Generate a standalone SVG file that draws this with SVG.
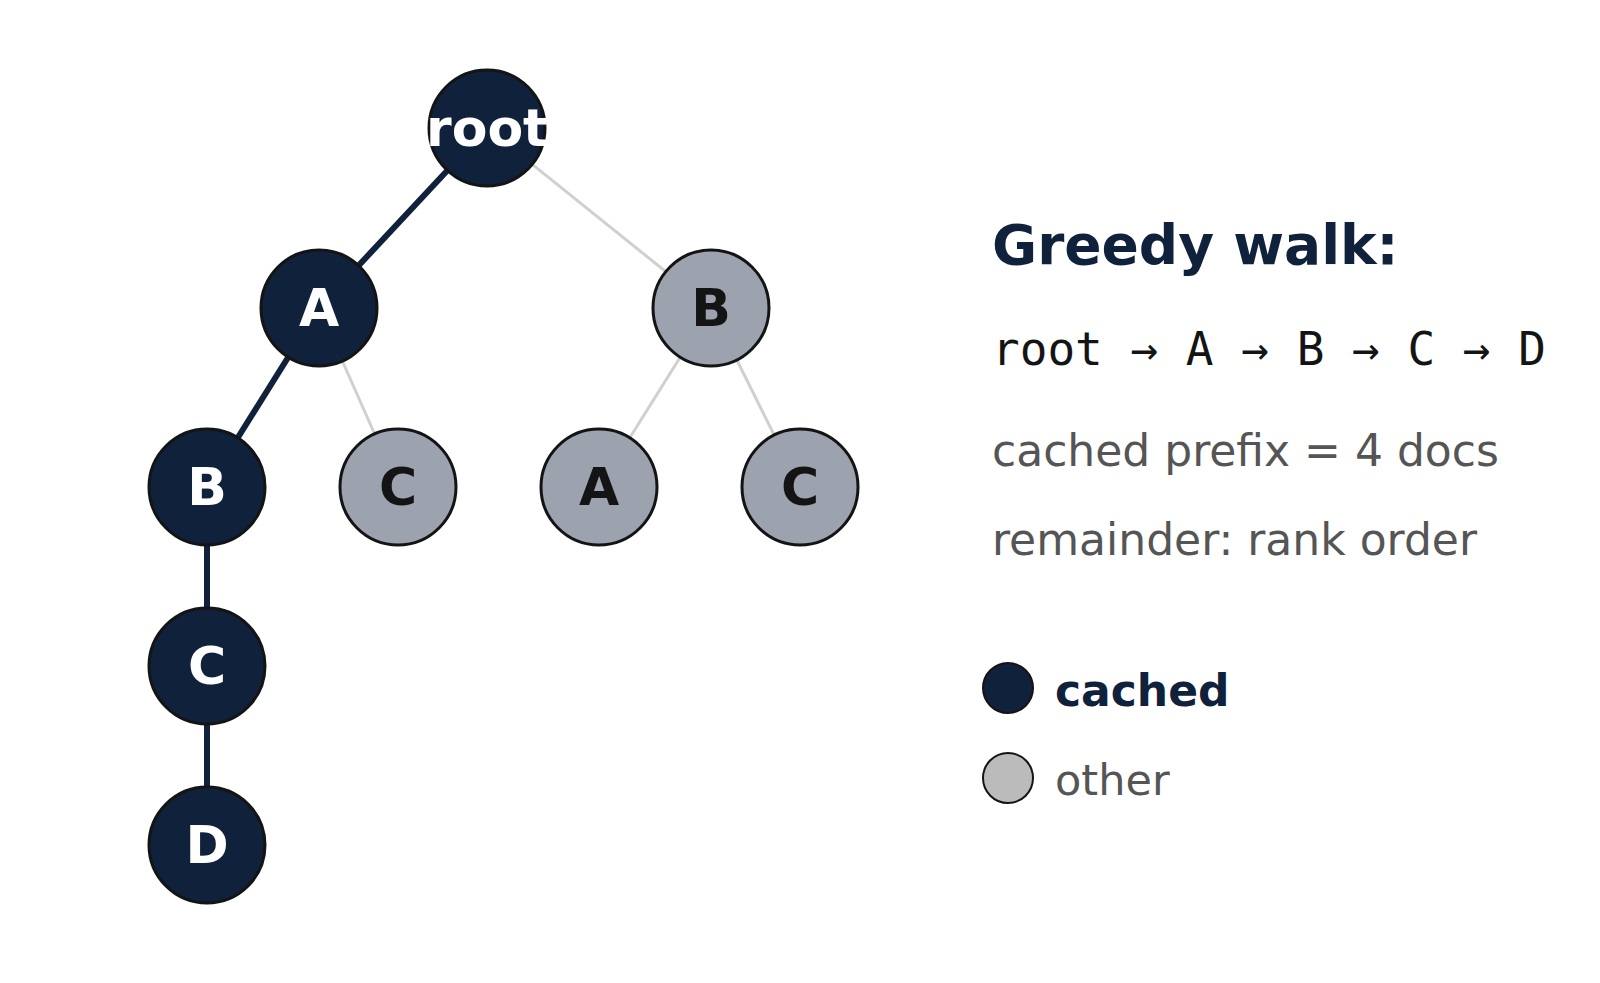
<svg xmlns="http://www.w3.org/2000/svg" width="1600" height="983" viewBox="0 0 1600 983">
<style>
.d{fill:#0f213b;stroke:#141414;stroke-width:3}
.g{fill:#9ca3ae;stroke:#141414;stroke-width:3}
.lw{font-family:"DejaVu Sans",sans-serif;font-weight:bold;font-size:52px;fill:#fff;text-anchor:middle}
.lk{font-family:"DejaVu Sans",sans-serif;font-weight:bold;font-size:52px;fill:#141414;text-anchor:middle}
.ed{stroke:#0f213b;stroke-width:6}
.eg{stroke:#d0d0d0;stroke-width:3}
.t{font-family:"DejaVu Sans",sans-serif;font-size:44px;fill:#555}
</style>
<rect width="1600" height="983" fill="#fff"/>
<g id="connectors">
<line class="eg" x1="487" y1="128" x2="711" y2="308"/>
<line class="eg" x1="319" y1="308" x2="398" y2="487"/>
<line class="eg" x1="711" y1="308" x2="599" y2="487"/>
<line class="eg" x1="711" y1="308" x2="800" y2="487"/>
<line class="ed" x1="487" y1="128" x2="319" y2="308"/>
<line class="ed" x1="319" y1="308" x2="207" y2="487"/>
<line class="ed" x1="207" y1="487" x2="207" y2="666"/>
<line class="ed" x1="207" y1="666" x2="207" y2="845"/>
</g>
<g id="n-root"><circle class="d" cx="487" cy="128" r="58"/><text class="lw" x="487" y="146">root</text></g>
<g id="n-A"><circle class="d" cx="319" cy="308" r="58"/><text class="lw" x="319" y="326">A</text></g>
<g id="n-B2"><circle class="g" cx="711" cy="308" r="58"/><text class="lk" x="711" y="326">B</text></g>
<g id="n-B"><circle class="d" cx="207" cy="487" r="58"/><text class="lw" x="207" y="505">B</text></g>
<g id="n-C2"><circle class="g" cx="398" cy="487" r="58"/><text class="lk" x="398" y="505">C</text></g>
<g id="n-A2"><circle class="g" cx="599" cy="487" r="58"/><text class="lk" x="599" y="505">A</text></g>
<g id="n-C3"><circle class="g" cx="800" cy="487" r="58"/><text class="lk" x="800" y="505">C</text></g>
<g id="n-C"><circle class="d" cx="207" cy="666" r="58"/><text class="lw" x="207" y="684">C</text></g>
<g id="n-D"><circle class="d" cx="207" cy="845" r="58"/><text class="lw" x="207" y="863">D</text></g>
<g id="legend-text">
<text x="992" y="264" font-family="DejaVu Sans,sans-serif" font-weight="bold" font-size="55" fill="#0f213b">Greedy walk:</text>
<text x="992" y="365" font-family="DejaVu Sans Mono,monospace" font-size="46" fill="#141414">root → A → B → C → D</text>
<text class="t" x="992" y="466">cached prefix = 4 docs</text>
<text class="t" x="992" y="555">remainder: rank order</text>
</g>
<g id="legend-cached"><circle cx="1008" cy="688" r="25" fill="#0f213b" stroke="#141414" stroke-width="2"/><text x="1055" y="706" font-family="DejaVu Sans,sans-serif" font-weight="bold" font-size="44" fill="#0f213b">cached</text></g>
<g id="legend-other"><circle cx="1008" cy="778" r="25" fill="#bbbbbb" stroke="#141414" stroke-width="2"/><text x="1055" y="795" font-family="DejaVu Sans,sans-serif" font-size="43" fill="#555">other</text></g>
</svg>
